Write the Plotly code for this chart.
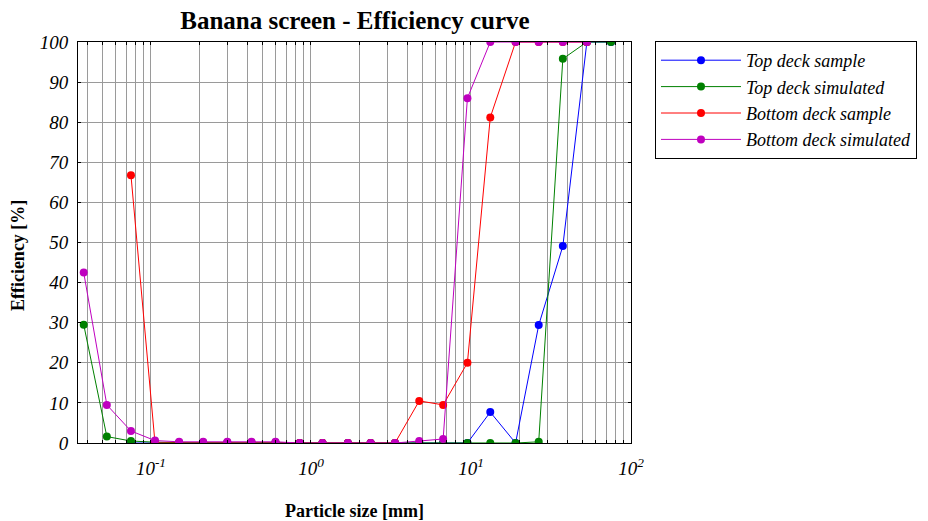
import numpy as np
import plotly.graph_objects as go

sizes = [0.038, 0.053, 0.075, 0.106, 0.15, 0.212, 0.3, 0.425, 0.6, 0.85, 1.18, 1.7,
         2.36, 3.35, 4.75, 6.7, 9.5, 13.2, 19, 26.5, 37.5, 53, 75, 106]

top_sample_x = sizes[2:]
top_sample = [0, 0, 0, 0, 0, 0, 0, 0, 0, 0, 0, 0, 0, 0, 0, 7.7, 0, 29.4, 49.1, 100, 100]

top_sim_x = sizes[:23]
top_sim = [29.5, 1.6, 0.5, 0.2, 0.1, 0.1, 0.1, 0.1, 0.1, 0, 0, 0, 0, 0, 0, 0, 0, 0, 0, 0.3, 95.8, 100, 100]

bot_sample_x = sizes[2:22]
bot_sample = [66.8, 0, 0, 0, 0, 0, 0, 0, 0, 0, 0, 0, 10.5, 9.5, 20, 81.2, 100, 100, 100, 100]

bot_sim_x = sizes[:22]
bot_sim = [42.5, 9.5, 3.0, 0.6, 0.3, 0.3, 0.3, 0.3, 0.3, 0, 0, 0, 0, 0, 0.5, 1.0, 86.0, 100, 100, 100, 100, 100]

series = [
    ("Top deck sample", top_sample_x, top_sample, "#0000ff"),
    ("Top deck simulated", top_sim_x, top_sim, "#008000"),
    ("Bottom deck sample", bot_sample_x, bot_sample, "#ff0000"),
    ("Bottom deck simulated", bot_sim_x, bot_sim, "#bf00bf"),
]

# log ticks
xtickvals = []
xticktext = []
for e in range(-2, 3):
    for d in range(1, 10):
        v = d * 10.0 ** e
        xtickvals.append(v)
        if d == 1:
            xticktext.append("10<sup>%d</sup>" % e)
        else:
            xticktext.append("")

serif = "Liberation Serif, Times New Roman, serif"

fig = go.Figure()
for name, xs, ys, col in series:
    fig.add_trace(go.Scatter(
        x=xs, y=ys, name=name, mode="lines+markers",
        line=dict(color=col, width=1),
        marker=dict(color=col, size=8),
        cliponaxis=True,
    ))

fig.update_layout(
    width=928, height=521,
    margin=dict(l=78, r=296, t=42, b=78),
    paper_bgcolor="white", plot_bgcolor="white",
    font=dict(family=serif, color="black"),
    title=dict(text="<b>Banana screen - Efficiency curve</b>",
               x=0.3825, xanchor="center", y=1 - 20 / 521, yanchor="middle",
               font=dict(size=25, family=serif)),
    legend=dict(x=1.0415, xanchor="left", y=1 + 1 / 401, yanchor="top",
                bordercolor="black", borderwidth=1, bgcolor="white",
                font=dict(size=18, family=serif, style="italic"),
                tracegroupgap=0, itemwidth=80),
    showlegend=True,
)

fig.update_xaxes(
    type="log", range=[np.log10(0.035), 2],
    tickvals=xtickvals, ticktext=xticktext,
    ticks="inside", ticklen=3, tickcolor="black",
    showline=True, linecolor="black", linewidth=1, mirror="ticks",
    showgrid=True, gridcolor="#9a9a9a", gridwidth=1,
    tickfont=dict(size=19, family=serif, style="italic"),
    ticklabelstandoff=8,
    zeroline=False,
)
fig.update_yaxes(
    range=[0, 100], dtick=10,
    ticks="inside", ticklen=3, tickcolor="black",
    showline=True, linecolor="black", linewidth=1, mirror="ticks",
    showgrid=True, gridcolor="#9a9a9a", gridwidth=1,
    tickfont=dict(size=19, family=serif, style="italic"),
    ticklabelstandoff=5,
    zeroline=False,
)

fig.add_annotation(text="<b>Particle size [mm]</b>", xref="paper", yref="paper",
                   x=0.5, y=-(511 - 443) / 401, xanchor="center", yanchor="middle",
                   showarrow=False, font=dict(size=18, family=serif))
fig.add_annotation(text="<b>Efficiency [%]</b>", xref="paper", yref="paper",
                   x=-(78 - 18) / 554, y=(443 - 256) / 401, xanchor="center", yanchor="middle",
                   textangle=-90, showarrow=False, font=dict(size=18, family=serif))

fig.write_html("out.html", config={"displayModeBar": False},
               post_script="document.body.style.margin='0';")
